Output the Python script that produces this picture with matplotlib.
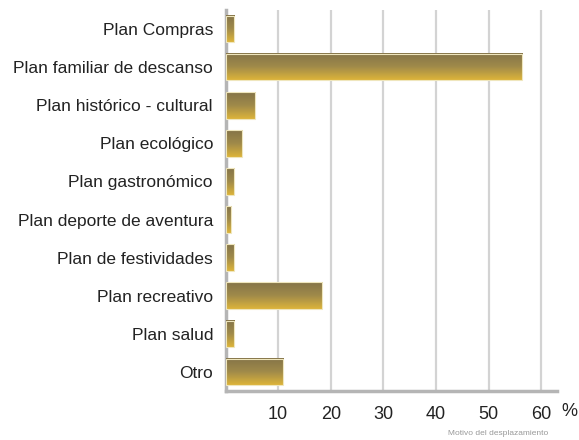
import matplotlib
matplotlib.use("Agg")
import matplotlib.pyplot as plt
import numpy as np
from matplotlib.colors import LinearSegmentedColormap

categories = ["Plan Compras", "Plan familiar de descanso", "Plan histórico - cultural",
              "Plan ecológico", "Plan gastronómico", "Plan deporte de aventura",
              "Plan de festividades", "Plan recreativo", "Plan salud", "Otro"]
values = [1.6, 56.3, 5.7, 3.1, 1.7, 1.0, 1.7, 18.3, 1.6, 11.0]
xticks = [10, 20, 30, 40, 50, 60]
xlabels = ["10", "20", "30", "40", "50", "60"]

plt.rcParams['font.family'] = ['Liberation Sans', 'DejaVu Sans']

fig = plt.figure(figsize=(5.79, 4.40), dpi=100)
ax = fig.add_axes([225.5/579, 1 - 391/440, (557 - 225.5)/579, (391 - 10)/440])

y = np.arange(len(categories))
bars = ax.barh(y, values, height=0.7, color='none', edgecolor='none', zorder=3)

cmap = LinearSegmentedColormap.from_list('gold', ['#857448', '#a08a4a', '#dcb43a'])
grad = np.linspace(0, 1, 64).reshape(-1, 1)
for p in bars.patches:
    x0, y0 = p.get_x(), p.get_y()
    w, h = p.get_width(), p.get_height()
    # axis is inverted: y0 is the visual top
    ax.imshow(grad, cmap=cmap, aspect='auto', extent=[x0, x0 + w, y0 + h, y0],
              origin='upper', zorder=3, interpolation='bilinear')
    ax.add_patch(plt.Rectangle((x0, y0), w, h, fill=False, edgecolor='#efe6bd',
                               linewidth=0.8, zorder=4))

ax.set_xlim(0, 63)
ax.set_ylim(len(categories) - 0.5, -0.5)
ax.set_xticks(xticks)
ax.set_xticklabels(xlabels, fontsize=13, color='#222222')
ax.set_yticks(y)
ax.set_yticklabels(categories, fontsize=12.5, color='#222222')
ax.tick_params(axis='both', length=0)
ax.tick_params(axis='x', pad=11)
ax.tick_params(axis='y', pad=9)

for xv in xticks:
    ax.axvline(xv, color='#d3d3d3', linewidth=1.6, zorder=1)

for s in ['top', 'right']:
    ax.spines[s].set_visible(False)
for s in ['left', 'bottom']:
    ax.spines[s].set_color('#b5b5b5')
    ax.spines[s].set_linewidth(2.5)

fig.text(569/579, 1 - 411/440, "%", fontsize=13, color='#222222', ha='center', va='center')
fig.text(498/579, 1 - 433/440, "Motivo del desplazamiento", fontsize=6, color='#999999',
         ha='center', va='center')

fig.savefig("out.png", dpi=100)
